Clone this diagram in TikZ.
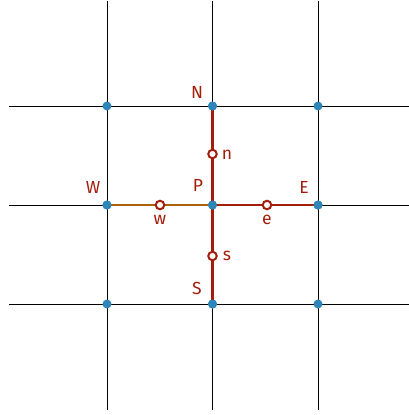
\documentclass[tikz,border=0pt]{standalone}
\usepackage{fontspec}
\setmainfont{Fira Sans}
\definecolor{dred}{HTML}{A31D0A}
\definecolor{dblue}{HTML}{2E86B8}
\definecolor{brn}{HTML}{A8620A}
\tikzset{
  grid/.style={black, line width=0.9pt},
  dot/.style={circle, fill=dblue, inner sep=0pt, minimum size=9pt},
  face/.style={circle, draw=dred, fill=white, line width=2pt, inner sep=0pt, minimum size=8.5pt},
  lab/.style={text=dred, font=\fontsize{17.5}{17.5}\selectfont, inner sep=0pt},
  flux/.style={dred, line width=2.4pt},
  fluxw/.style={brn, line width=2.4pt}
}
\begin{document}
\begin{tikzpicture}[x=1pt,y=-1pt]
\useasboundingbox (0,0) rectangle (409,415);
% grid lines
\coordinate (v1t) at (107,1); \coordinate (v1b) at (107,410);
\coordinate (v2t) at (212.5,1); \coordinate (v2b) at (212.5,410);
\coordinate (v3t) at (318,1); \coordinate (v3b) at (318,410);
\coordinate (h1l) at (9,106); \coordinate (h1r) at (409,106);
\coordinate (h2l) at (9,205); \coordinate (h2r) at (409,205);
\coordinate (h3l) at (9,304); \coordinate (h3r) at (409,304);
\draw[grid] (v1t) -- (v1b);
\draw[grid] (v2t) -- (v2b);
\draw[grid] (v3t) -- (v3b);
\draw[grid] (h1l) -- (h1r);
\draw[grid] (h2l) -- (h2r);
\draw[grid] (h3l) -- (h3r);
% nodes
\node[dot] (NW) at (107,106) {};
\node[dot] (N) at (212.5,106) {};
\node[dot] (NE) at (318,106) {};
\node[dot] (W) at (107,205) {};
\node[dot] (P) at (212.5,205) {};
\node[dot] (E) at (318,205) {};
\node[dot] (SW) at (107,304) {};
\node[dot] (S) at (212.5,304) {};
\node[dot] (SE) at (318,304) {};
% flux lines
\draw[fluxw] (W.center) -- (P.center);
\draw[flux] (N.center) -- (S.center);
\draw[flux] (P.center) -- (E.center);
\node[dot] at (W) {};
\node[dot] at (P) {};
\node[dot] at (E) {};
\node[dot] at (N) {};
\node[dot] at (S) {};
% faces
\node[face] (fn) at (212.5,154) {};
\node[face] (fw) at (160,205) {};
\node[face] (fe) at (267,205) {};
\node[face] (fs) at (212.5,256) {};
% labels
\node[lab] (lN) at (197,92) {N};
\node[lab] (ln) at (227,155) {n};
\node[lab] (lW) at (93,187) {W};
\node[lab] (lP) at (198,185) {P};
\node[lab] (lw) at (160,220) {w};
\node[lab] (le) at (267,220) {e};
\node[lab] (lE) at (304,187) {E};
\node[lab] (ls) at (227,256) {s};
\node[lab] (lS) at (197,288) {S};
\end{tikzpicture}
\end{document}
